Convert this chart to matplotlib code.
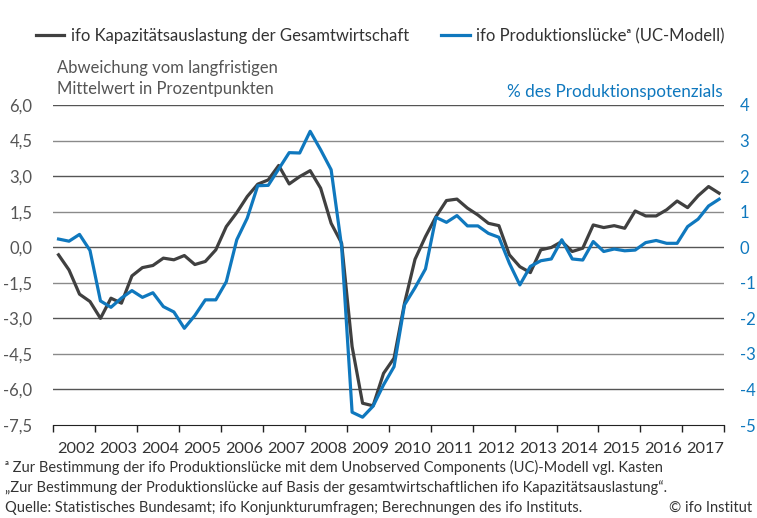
import numpy as np
import matplotlib.pyplot as plt
from matplotlib.ticker import FixedLocator, NullFormatter

plt.rcParams['font.family'] = ['Lato', 'DejaVu Sans']

# Quarterly values 2002Q1 - 2017Q4
years = list(range(2002, 2018))

# ifo Kapazitaetsauslastung (Abweichung vom Mittelwert, Prozentpunkte)
kapazitaet = [
    -0.32, -0.96, -1.98, -2.29, -3.00, -2.15, -2.36, -1.21,
    -0.86, -0.77, -0.46, -0.53, -0.35, -0.73, -0.60, -0.11,
    0.87, 1.46, 2.14, 2.66, 2.84, 3.45, 2.67, 2.98,
    3.23, 2.49, 1.01, 0.17, -4.19, -6.58, -6.69, -5.32,
    -4.68, -2.36, -0.51, 0.45, 1.29, 1.97, 2.03, 1.65,
    1.36, 1.01, 0.91, -0.32, -0.82, -1.07, -0.11, -0.01,
    0.24, -0.18, -0.04, 0.94, 0.83, 0.91, 0.80, 1.53,
    1.32, 1.32, 1.58, 1.95, 1.67, 2.17, 2.56, 2.28,
]

# ifo Produktionsluecke (% des Produktionspotenzials)
produktionsluecke = [
    0.23, 0.17, 0.36, -0.09, -1.51, -1.69, -1.43, -1.22,
    -1.41, -1.28, -1.67, -1.82, -2.28, -1.92, -1.48, -1.48,
    -0.97, 0.21, 0.82, 1.73, 1.74, 2.20, 2.66, 2.65,
    3.26, 2.74, 2.18, 0.02, -4.64, -4.78, -4.47, -3.87,
    -3.36, -1.62, -1.14, -0.61, 0.84, 0.70, 0.89, 0.60,
    0.60, 0.39, 0.28, -0.45, -1.06, -0.54, -0.38, -0.33,
    0.21, -0.33, -0.36, 0.16, -0.12, -0.05, -0.10, -0.08,
    0.13, 0.19, 0.11, 0.11, 0.58, 0.79, 1.16, 1.35,
]

left_ticks = [6.0, 4.5, 3.0, 1.5, 0.0, -1.5, -3.0, -4.5, -6.0, -7.5]
right_ticks = [4, 3, 2, 1, 0, -1, -2, -3, -4, -5]

dark = '#404040'
blue = '#0f78be'
text_col = '#333333'

quarters = years[0] + (np.arange(len(kapazitaet)) + 0.5) / 4

fig = plt.figure(figsize=(7.57, 5.18), dpi=100)
ax = fig.add_axes([0.0704, 0.1795, 0.8864, 0.6178])
ax2 = ax.twinx()

# grid lines
for k, v in enumerate(left_ticks[:-1]):
    ax.axhline(v, color='#555555' if k % 2 == 0 else '#8a8a8a', lw=1.0, zorder=0)

line1, = ax.plot(quarters, kapazitaet, color=dark, lw=2.3,
                 label='ifo Kapazitätsauslastung der Gesamtwirtschaft')
line2, = ax2.plot(quarters, produktionsluecke, color=blue, lw=2.3,
                  label='ifo Produktionslückeᵃ (UC-Modell)')

ax.set_xlim(years[0], years[-1] + 1)
ax.set_ylim(-7.5, 6.0)
ax2.set_ylim(-5, 4)

for a in (ax, ax2):
    for s in ['top', 'left', 'right']:
        a.spines[s].set_visible(False)
ax.spines['bottom'].set_color('#222222')
ax2.spines['bottom'].set_visible(False)

ax.set_yticks(left_ticks)
ax.set_yticklabels([f'{v:.1f}'.replace('.', ',') for v in left_ticks],
                   color='#555555', fontsize=12)
ax.tick_params(axis='y', length=0, pad=15)

ax2.set_yticks(right_ticks)
ax2.set_yticklabels([str(v) for v in right_ticks], color=blue, fontsize=12)
ax2.tick_params(axis='y', length=0, pad=11)

# year boundaries as ticks, labels centred in each year
ax.xaxis.set_major_locator(FixedLocator(years + [years[-1] + 1]))
ax.xaxis.set_major_formatter(NullFormatter())
ax.xaxis.set_minor_locator(FixedLocator([y + 0.55 for y in years]))
ax.set_xticklabels([str(y) for y in years], minor=True)
ax.tick_params(axis='x', which='major', length=5, width=1, color='#222222')
ax.tick_params(axis='x', which='minor', length=0, pad=12,
               labelsize=11.8, labelcolor=text_col)

# legends
leg1 = fig.legend(handles=[line1], loc='center left', bbox_to_anchor=(0.047, 0.93),
                  frameon=False, fontsize=12, handlelength=1.7,
                  handletextpad=0.4, borderaxespad=0, borderpad=0)
leg2 = fig.legend(handles=[line2], loc='center left', bbox_to_anchor=(0.583, 0.93),
                  frameon=False, fontsize=12, handlelength=1.7,
                  handletextpad=0.4, borderaxespad=0, borderpad=0)
for leg in (leg1, leg2):
    for t in leg.get_texts():
        t.set_color(text_col)

fig.text(0.075, 0.849, 'Abweichung vom langfristigen\nMittelwert in Prozentpunkten',
         color='#555555', fontsize=12, va='center', ha='left', linespacing=1.4)
fig.text(0.954, 0.823, '% des Produktionspotenzials', color=blue,
         fontsize=12.3, va='center', ha='right')

fig.text(0.007, 0.097, 'ᵃ Zur Bestimmung der ifo Produktionslücke mit dem Unobserved '
         'Components (UC)-Modell vgl. Kasten', color=text_col, fontsize=10.5, va='center')
fig.text(0.007, 0.058, '„Zur Bestimmung der Produktionslücke auf Basis der '
         'gesamtwirtschaftlichen ifo Kapazitätsauslastung“.', color=text_col,
         fontsize=10.5, va='center')
fig.text(0.007, 0.019, 'Quelle: Statistisches Bundesamt; ifo Konjunkturumfragen; '
         'Berechnungen des ifo Instituts.', color=text_col, fontsize=10.5, va='center')
fig.text(0.994, 0.019, '© ifo Institut', color=text_col, fontsize=10.5,
         va='center', ha='right')

fig.savefig('out.png', dpi=100)
